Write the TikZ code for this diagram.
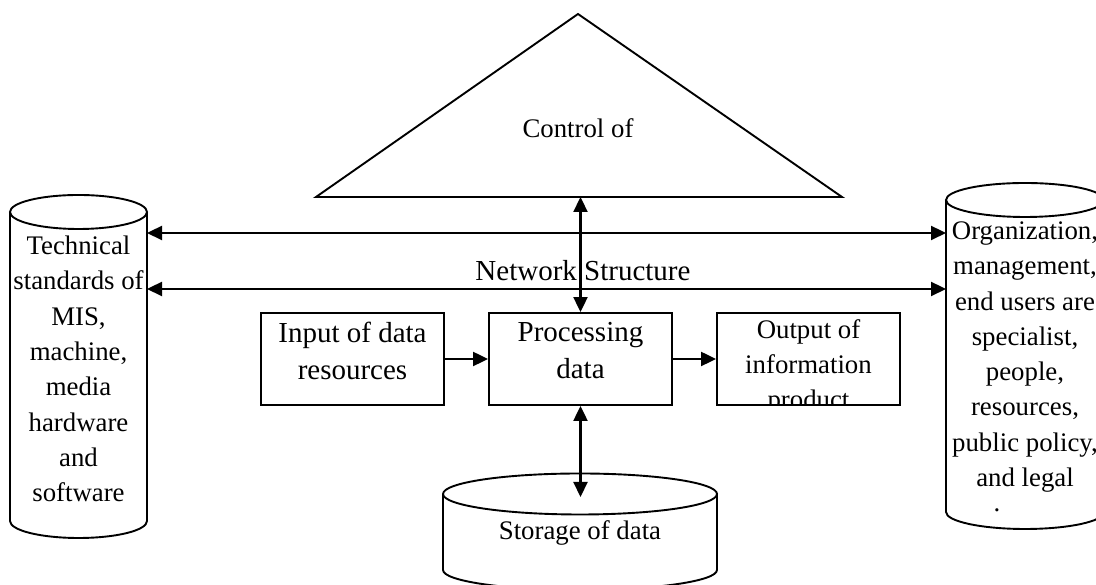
\documentclass[tikz,border=0pt]{standalone}
\usepackage{fontspec}
\setmainfont{Liberation Serif}
\usetikzlibrary{arrows.meta}
\tikzset{
  shapeline/.style={line width=1.9pt},
  tip/.tip={Triangle[length=15pt,width=14pt]},
  twoway/.style={line width=2.2pt, tip-tip},
  oneway/.style={line width=2.2pt, -tip},
  procbox/.style={draw, line width=1.9pt, minimum width=183pt, minimum height=92pt, inner sep=0pt},
  bigtxt/.style={font=\fontsize{29}{37}\selectfont, align=center, inner sep=0pt},
  smalltxt/.style={font=\fontsize{26.8}{35.3}\selectfont, align=center, inner sep=0pt},
}
\begin{document}
\begin{tikzpicture}[x=1pt,y=1pt]
\useasboundingbox (0,0) rectangle (1096,585);
\clip (0,0) rectangle (1096,585);

% control triangle on top
\draw[shapeline, line join=miter] (316,388) -- (578,571) -- (842,388) -- cycle;
\node[smalltxt] (control) at (578,457) {Control of};
\coordinate (tribase) at (580.5,388);

% left cylinder: technical standards
\draw[shapeline] (10,373) -- (10,64) arc[start angle=180,end angle=360,x radius=68.5,y radius=17] -- (147,373);
\draw[shapeline] (78.5,373) ellipse[x radius=68.5,y radius=17];
\node[smalltxt] (tech) at (78.5,216) {Technical\\standards of\\MIS,\\machine,\\media\\hardware\\and\\software};
\coordinate (lcA) at (147,352);
\coordinate (lcB) at (147,296);

% right cylinder: organization and people
\draw[shapeline] (946,385) -- (946,73) arc[start angle=180,end angle=360,x radius=79,y radius=17] -- (1104,385);
\draw[shapeline] (1025,385) ellipse[x radius=79,y radius=17];
\node[smalltxt] (org) at (1025,228) {Organization,\\management,\\end users are\\specialist,\\people,\\resources,\\public policy,\\and legal};
\node[smalltxt, anchor=base] (orgdot) at (997,73) {.};
\coordinate (rcA) at (946,352);
\coordinate (rcB) at (946,296);

% network structure bus
\draw[twoway] (lcA) -- (rcA);
\draw[twoway] (lcB) -- (rcB);
\node[bigtxt] (net) at (583,314) {Network Structure};

% processing chain
\node[procbox] (input) at (352.5,226) {};
\node[bigtxt] (inputtxt) at (352.5,234) {Input of data\\resources};
\node[procbox] (proc) at (580.5,226) {};
\node[bigtxt] (proctxt) at (580.5,234) {Processing\\data};
\node[procbox] (output) at (808.5,226) {};
\begin{scope}
  \clip (output.south west) rectangle (output.north east);
  \node[smalltxt] (outputtxt) at (808.5,218) {Output of\\information\\product};
\end{scope}

\draw[oneway] (input) -- (proc);
\draw[oneway] (proc) -- (output);
\draw[twoway] (tribase) -- (proc.north);

% storage cylinder
\draw[shapeline] (443,91) -- (443,15) arc[start angle=180,end angle=360,x radius=137,y radius=20] -- (717,91);
\draw[shapeline] (580,91) ellipse[x radius=137,y radius=20.5];
\node[smalltxt] (storage) at (580,52) {Storage of data};
\coordinate (stortop) at (580.5,88);
\draw[twoway] (proc.south) -- (stortop);
\end{tikzpicture}
\end{document}
